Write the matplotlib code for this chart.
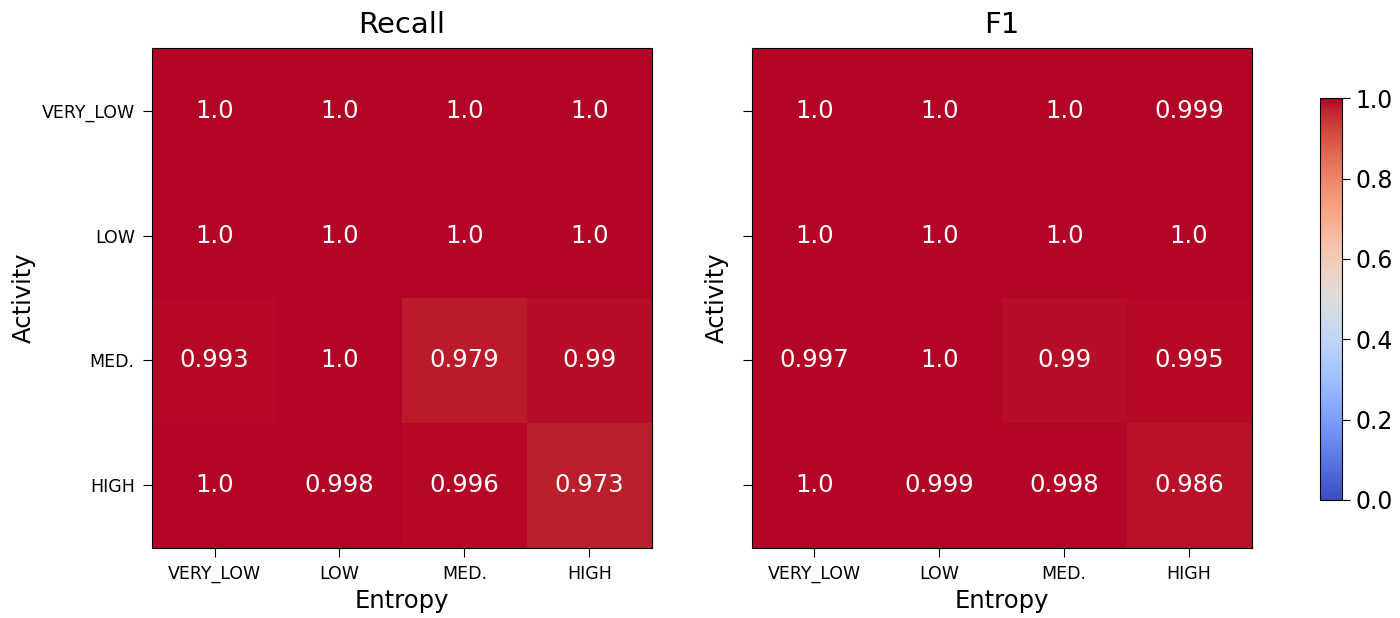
import matplotlib.pyplot as plt
import numpy as np

entropy = ['VERY_LOW', 'LOW', 'MED.', 'HIGH']
activity = ['VERY_LOW', 'LOW', 'MED.', 'HIGH']
recall = np.array([[1.0, 1.0, 1.0, 1.0],
                   [1.0, 1.0, 1.0, 1.0],
                   [0.993, 1.0, 0.979, 0.99],
                   [1.0, 0.998, 0.996, 0.973]])
f1 = np.array([[1.0, 1.0, 1.0, 0.999],
               [1.0, 1.0, 1.0, 1.0],
               [0.997, 1.0, 0.99, 0.995],
               [1.0, 0.999, 0.998, 0.986]])

fig = plt.figure(figsize=(14, 6.18), dpi=100)
ax1 = fig.add_axes([0.1086, 0.1133, 0.357, 0.809])
ax2 = fig.add_axes([0.537, 0.1133, 0.357, 0.809])
cax = fig.add_axes([0.943, 0.191, 0.0157, 0.650])

for ax, data, title in [(ax1, recall, 'Recall'), (ax2, f1, 'F1')]:
    im = ax.imshow(data, cmap='coolwarm', vmin=0, vmax=1, aspect='auto')
    for i in range(4):
        for j in range(4):
            ax.text(j, i, str(data[i, j]), ha='center', va='center',
                    color='white', fontsize=17.5)
    ax.set_xticks(range(4))
    ax.set_xticklabels(entropy, fontsize=12.5)
    ax.set_yticks(range(4))
    ax.set_yticklabels(activity, fontsize=12.5)
    ax.set_xlabel('Entropy', fontsize=17.5)
    ax.set_ylabel('Activity', fontsize=17.5)
    ax.set_title(title, fontsize=21, pad=11)
    ax.tick_params(length=6.5, pad=6)

ax2.set_yticklabels([])

cb = fig.colorbar(im, cax=cax)
cb.ax.tick_params(labelsize=17, length=6)

plt.savefig('out.png')
